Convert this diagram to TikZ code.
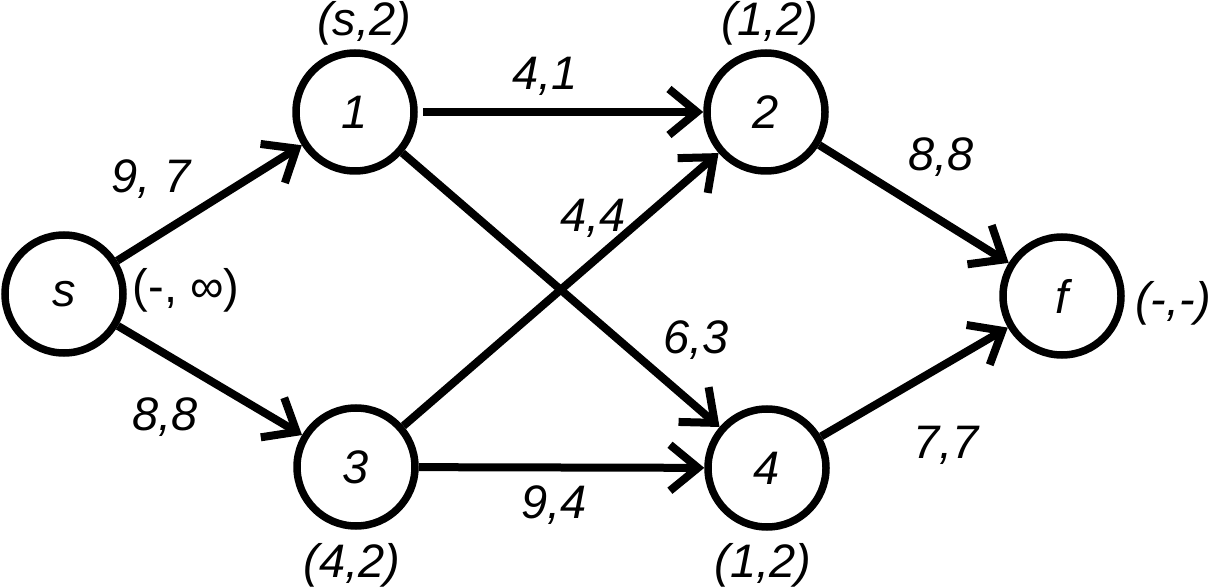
\documentclass[tikz,border=0pt]{standalone}
\usepackage{fontspec}
\setmainfont{Liberation Sans}
\usetikzlibrary{arrows.meta}
\tikzset{
  vtx/.style={circle, draw, line width=7.5pt, minimum size=118pt, inner sep=0pt,
    font=\fontsize{47}{50}\selectfont\itshape},
  lbl/.style={anchor=base, inner sep=0pt, font=\fontsize{47}{50}\selectfont\itshape},
  lblup/.style={anchor=base, inner sep=0pt, font=\fontsize{47}{50}\selectfont},
  arr/.style={line width=8pt, -{Straight Barb[length=28pt,width=46pt,sharp]}}
}
\begin{document}
\begin{tikzpicture}[x=1pt,y=-1pt]
\fill[white] (0,0) rectangle (1211,588);
\useasboundingbox (0,0) rectangle (1211,588);
% vertices
\node[vtx] (s) at (64,294) {s};
\node[vtx] (v1) at (355,112) {1};
\node[vtx] (v2) at (766,112) {2};
\node[vtx] (v3) at (356,467) {3};
\node[vtx] (v4) at (767,468) {4};
\node[vtx] (f) at (1062,296) {f};
% edges
\draw[arr] (s) -- (v1);
\draw[arr] (s) -- (v3);
\draw[arr, shorten <=5pt] (v1) -- (v2);
\draw[arr] (v1) -- (v4);
\draw[arr] (v3) -- (v2);
\draw[arr] (v3) -- (v4);
\draw[arr] (v2) -- (f);
\draw[arr] (v4) -- (f);
% vertex labels
\node[lbl] (ls) at (364,36) {(s,2)};
\node[lbl] (l2) at (770,36) {(1,2)};
\node[lblup] (lsrc) at (186,303) {(-, ∞)};
\node[lbl] (lf) at (1173,316) {(-,-)};
\node[lbl] (l3) at (352,577) {(4,2)};
\node[lbl] (l4) at (763,577) {(1,2)};
% edge labels
\node[lbl] (e1) at (151,193) {9, 7};
\node[lbl] (e2) at (165,430) {8,8};
\node[lbl] (e3) at (545,90) {4,1};
\node[lbl] (e4) at (593,232) {4,4};
\node[lbl] (e5) at (696,353) {6,3};
\node[lbl] (e6) at (554,518) {9,4};
\node[lbl] (e7) at (941,171) {8,8};
\node[lbl] (e8) at (946,458) {7,7};
\end{tikzpicture}
\end{document}
